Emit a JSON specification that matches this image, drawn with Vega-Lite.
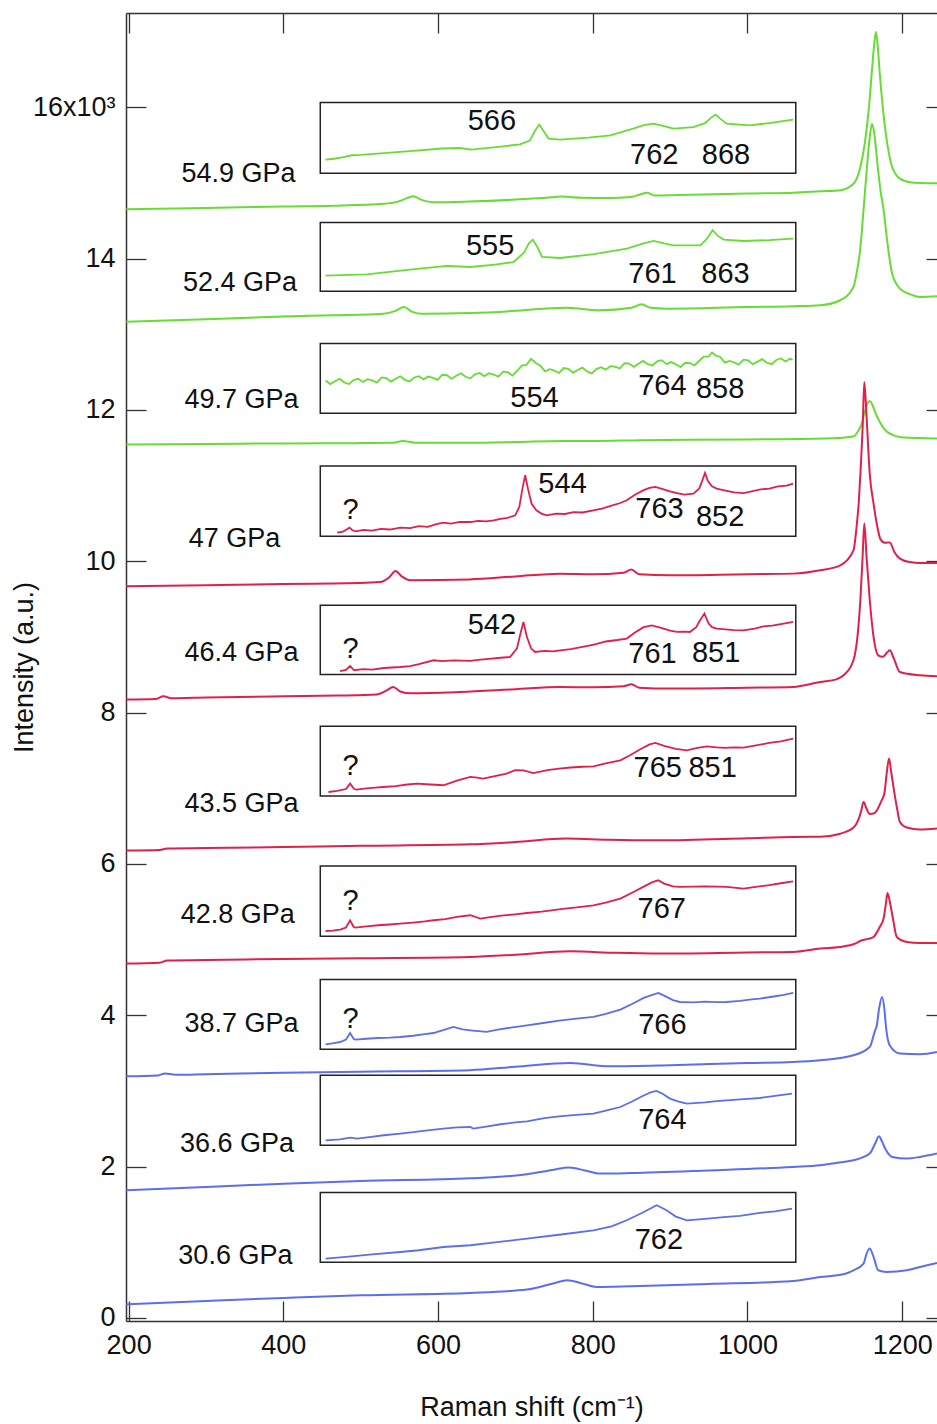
{
  "$schema": "https://vega.github.io/schema/vega-lite/v6.json",
  "width": 811,
  "height": 1308,
  "autosize": {"type": "none"},
  "padding": {"left": 126, "top": 13, "right": 0, "bottom": 103},
  "background": "white",
  "config": {
    "view": {"stroke": null},
    "font": "Liberation Sans",
    "axis": {"labelFont": "Liberation Sans", "titleFont": "Liberation Sans", "labelFontSize": 27, "titleFontSize": 27, "titleFontWeight": "normal", "labelColor": "#111", "titleColor": "#111", "tickColor": "#333", "domainColor": "#333", "tickWidth": 1.3, "domainWidth": 1.5, "grid": false, "labelFlush": false, "labelOverlap": false},
    "text": {"font": "Liberation Sans", "color": "#111"}
  },
  "datasets": {
    "main": [
      {"p":"54.9","x":197,"y":14652},{"p":"54.9","x":300,"y":14670},{"p":"54.9","x":400,"y":14690},{"p":"54.9","x":465,"y":14700},{"p":"54.9","x":530,"y":14725},{"p":"54.9","x":550,"y":14760},{"p":"54.9","x":560,"y":14800},{"p":"54.9","x":568,"y":14823},{"p":"54.9","x":578,"y":14780},{"p":"54.9","x":595,"y":14745},{"p":"54.9","x":640,"y":14755},{"p":"54.9","x":700,"y":14780},{"p":"54.9","x":740,"y":14805},{"p":"54.9","x":760,"y":14820},{"p":"54.9","x":785,"y":14805},{"p":"54.9","x":820,"y":14800},{"p":"54.9","x":850,"y":14815},{"p":"54.9","x":862,"y":14850},{"p":"54.9","x":870,"y":14870},{"p":"54.9","x":880,"y":14835},{"p":"54.9","x":910,"y":14840},{"p":"54.9","x":1000,"y":14860},{"p":"54.9","x":1059,"y":14870},{"p":"54.9","x":1094,"y":14890},{"p":"54.9","x":1120,"y":14905},{"p":"54.9","x":1137,"y":14990},{"p":"54.9","x":1146,"y":15211},{"p":"54.9","x":1152,"y":15550},{"p":"54.9","x":1157,"y":15993},{"p":"54.9","x":1161,"y":16500},{"p":"54.9","x":1164,"y":16850},{"p":"54.9","x":1166,"y":16995},{"p":"54.9","x":1168,"y":16850},{"p":"54.9","x":1171,"y":16450},{"p":"54.9","x":1175,"y":15993},{"p":"54.9","x":1181,"y":15500},{"p":"54.9","x":1187,"y":15211},{"p":"54.9","x":1197,"y":15057},{"p":"54.9","x":1210,"y":15010},{"p":"54.9","x":1223,"y":14999},{"p":"54.9","x":1245,"y":14995},
      {"p":"52.4","x":197,"y":13165},{"p":"52.4","x":300,"y":13200},{"p":"52.4","x":400,"y":13235},{"p":"52.4","x":465,"y":13251},{"p":"52.4","x":529,"y":13273},{"p":"52.4","x":545,"y":13310},{"p":"52.4","x":556,"y":13360},{"p":"52.4","x":566,"y":13300},{"p":"52.4","x":580,"y":13270},{"p":"52.4","x":641,"y":13280},{"p":"52.4","x":700,"y":13310},{"p":"52.4","x":740,"y":13340},{"p":"52.4","x":766,"y":13352},{"p":"52.4","x":790,"y":13330},{"p":"52.4","x":809,"y":13317},{"p":"52.4","x":850,"y":13350},{"p":"52.4","x":863,"y":13396},{"p":"52.4","x":875,"y":13350},{"p":"52.4","x":896,"y":13339},{"p":"52.4","x":1000,"y":13360},{"p":"52.4","x":1059,"y":13370},{"p":"52.4","x":1094,"y":13383},{"p":"52.4","x":1120,"y":13450},{"p":"52.4","x":1137,"y":13625},{"p":"52.4","x":1141,"y":13802},{"p":"52.4","x":1146,"y":14150},{"p":"52.4","x":1150,"y":14640},{"p":"52.4","x":1154,"y":15150},{"p":"52.4","x":1158,"y":15600},{"p":"52.4","x":1161,"y":15784},{"p":"52.4","x":1164,"y":15650},{"p":"52.4","x":1168,"y":15250},{"p":"52.4","x":1172,"y":14900},{"p":"52.4","x":1176,"y":14640},{"p":"52.4","x":1181,"y":14200},{"p":"52.4","x":1187,"y":13802},{"p":"52.4","x":1197,"y":13604},{"p":"52.4","x":1210,"y":13530},{"p":"52.4","x":1223,"y":13493},{"p":"52.4","x":1245,"y":13502},
      {"p":"49.7","x":197,"y":11542},{"p":"49.7","x":300,"y":11550},{"p":"49.7","x":400,"y":11558},{"p":"49.7","x":500,"y":11562},{"p":"49.7","x":540,"y":11565},{"p":"49.7","x":555,"y":11590},{"p":"49.7","x":570,"y":11568},{"p":"49.7","x":640,"y":11565},{"p":"49.7","x":700,"y":11575},{"p":"49.7","x":760,"y":11590},{"p":"49.7","x":800,"y":11590},{"p":"49.7","x":860,"y":11600},{"p":"49.7","x":1000,"y":11610},{"p":"49.7","x":1100,"y":11622},{"p":"49.7","x":1137,"y":11650},{"p":"49.7","x":1143,"y":11720},{"p":"49.7","x":1147,"y":11800},{"p":"49.7","x":1151,"y":11950},{"p":"49.7","x":1155,"y":12080},{"p":"49.7","x":1158,"y":12118},{"p":"49.7","x":1161,"y":12080},{"p":"49.7","x":1165,"y":11970},{"p":"49.7","x":1170,"y":11860},{"p":"49.7","x":1176,"y":11760},{"p":"49.7","x":1182,"y":11700},{"p":"49.7","x":1190,"y":11660},{"p":"49.7","x":1201,"y":11635},{"p":"49.7","x":1245,"y":11622},
      {"p":"47","x":197,"y":9670},{"p":"47","x":300,"y":9685},{"p":"47","x":400,"y":9700},{"p":"47","x":465,"y":9705},{"p":"47","x":525,"y":9726},{"p":"47","x":537,"y":9790},{"p":"47","x":545,"y":9872},{"p":"47","x":553,"y":9800},{"p":"47","x":564,"y":9749},{"p":"47","x":641,"y":9760},{"p":"47","x":700,"y":9800},{"p":"47","x":758,"y":9837},{"p":"47","x":800,"y":9830},{"p":"47","x":840,"y":9850},{"p":"47","x":850,"y":9890},{"p":"47","x":860,"y":9830},{"p":"47","x":900,"y":9815},{"p":"47","x":1000,"y":9830},{"p":"47","x":1059,"y":9837},{"p":"47","x":1094,"y":9881},{"p":"47","x":1120,"y":9947},{"p":"47","x":1137,"y":10145},{"p":"47","x":1141,"y":10453},{"p":"47","x":1144,"y":10800},{"p":"47","x":1146,"y":11163},{"p":"47","x":1149,"y":11800},{"p":"47","x":1151,"y":12369},{"p":"47","x":1154,"y":11900},{"p":"47","x":1158,"y":11163},{"p":"47","x":1163,"y":10761},{"p":"47","x":1168,"y":10450},{"p":"47","x":1172,"y":10290},{"p":"47","x":1178,"y":10245},{"p":"47","x":1184,"y":10250},{"p":"47","x":1190,"y":10120},{"p":"47","x":1197,"y":10036},{"p":"47","x":1210,"y":9990},{"p":"47","x":1223,"y":9977},{"p":"47","x":1245,"y":9977},
      {"p":"46.4","x":197,"y":8172},{"p":"46.4","x":235,"y":8180},{"p":"46.4","x":245,"y":8215},{"p":"46.4","x":255,"y":8190},{"p":"46.4","x":300,"y":8200},{"p":"46.4","x":400,"y":8215},{"p":"46.4","x":470,"y":8225},{"p":"46.4","x":521,"y":8240},{"p":"46.4","x":533,"y":8290},{"p":"46.4","x":542,"y":8339},{"p":"46.4","x":551,"y":8280},{"p":"46.4","x":565,"y":8255},{"p":"46.4","x":629,"y":8273},{"p":"46.4","x":700,"y":8310},{"p":"46.4","x":758,"y":8339},{"p":"46.4","x":800,"y":8335},{"p":"46.4","x":840,"y":8350},{"p":"46.4","x":850,"y":8374},{"p":"46.4","x":860,"y":8330},{"p":"46.4","x":900,"y":8318},{"p":"46.4","x":1000,"y":8330},{"p":"46.4","x":1059,"y":8339},{"p":"46.4","x":1094,"y":8405},{"p":"46.4","x":1115,"y":8440},{"p":"46.4","x":1125,"y":8500},{"p":"46.4","x":1137,"y":8692},{"p":"46.4","x":1143,"y":9088},{"p":"46.4","x":1146,"y":9498},{"p":"46.4","x":1149,"y":10100},{"p":"46.4","x":1151,"y":10498},{"p":"46.4","x":1154,"y":10050},{"p":"46.4","x":1158,"y":9498},{"p":"46.4","x":1163,"y":9000},{"p":"46.4","x":1169,"y":8758},{"p":"46.4","x":1175,"y":8740},{"p":"46.4","x":1181,"y":8800},{"p":"46.4","x":1184,"y":8824},{"p":"46.4","x":1189,"y":8720},{"p":"46.4","x":1197,"y":8537},{"p":"46.4","x":1223,"y":8493},{"p":"46.4","x":1245,"y":8480},
      {"p":"43.5","x":197,"y":6178},{"p":"43.5","x":240,"y":6185},{"p":"43.5","x":250,"y":6205},{"p":"43.5","x":300,"y":6210},{"p":"43.5","x":400,"y":6225},{"p":"43.5","x":500,"y":6240},{"p":"43.5","x":641,"y":6260},{"p":"43.5","x":700,"y":6290},{"p":"43.5","x":766,"y":6335},{"p":"43.5","x":820,"y":6320},{"p":"43.5","x":887,"y":6313},{"p":"43.5","x":1000,"y":6340},{"p":"43.5","x":1059,"y":6357},{"p":"43.5","x":1094,"y":6360},{"p":"43.5","x":1120,"y":6400},{"p":"43.5","x":1137,"y":6481},{"p":"43.5","x":1143,"y":6577},{"p":"43.5","x":1147,"y":6700},{"p":"43.5","x":1150,"y":6819},{"p":"43.5","x":1154,"y":6730},{"p":"43.5","x":1158,"y":6660},{"p":"43.5","x":1163,"y":6666},{"p":"43.5","x":1168,"y":6720},{"p":"43.5","x":1173,"y":6830},{"p":"43.5","x":1177,"y":6934},{"p":"43.5","x":1180,"y":7200},{"p":"43.5","x":1183,"y":7393},{"p":"43.5","x":1186,"y":7200},{"p":"43.5","x":1190,"y":6934},{"p":"43.5","x":1194,"y":6700},{"p":"43.5","x":1197,"y":6555},{"p":"43.5","x":1206,"y":6481},{"p":"43.5","x":1223,"y":6454},{"p":"43.5","x":1245,"y":6468},
      {"p":"42.8","x":197,"y":4684},{"p":"42.8","x":240,"y":4695},{"p":"42.8","x":250,"y":4725},{"p":"42.8","x":300,"y":4730},{"p":"42.8","x":400,"y":4745},{"p":"42.8","x":500,"y":4755},{"p":"42.8","x":641,"y":4771},{"p":"42.8","x":700,"y":4800},{"p":"42.8","x":771,"y":4846},{"p":"42.8","x":830,"y":4825},{"p":"42.8","x":887,"y":4816},{"p":"42.8","x":1000,"y":4830},{"p":"42.8","x":1059,"y":4837},{"p":"42.8","x":1094,"y":4882},{"p":"42.8","x":1124,"y":4910},{"p":"42.8","x":1137,"y":4939},{"p":"42.8","x":1148,"y":4991},{"p":"42.8","x":1156,"y":5010},{"p":"42.8","x":1163,"y":5035},{"p":"42.8","x":1171,"y":5167},{"p":"42.8","x":1176,"y":5282},{"p":"42.8","x":1179,"y":5480},{"p":"42.8","x":1181,"y":5617},{"p":"42.8","x":1184,"y":5500},{"p":"42.8","x":1188,"y":5282},{"p":"42.8","x":1193,"y":5035},{"p":"42.8","x":1206,"y":4969},{"p":"42.8","x":1223,"y":4956},{"p":"42.8","x":1245,"y":4956},
      {"p":"38.7","x":197,"y":3194},{"p":"38.7","x":238,"y":3205},{"p":"38.7","x":247,"y":3232},{"p":"38.7","x":260,"y":3215},{"p":"38.7","x":300,"y":3222},{"p":"38.7","x":400,"y":3240},{"p":"38.7","x":500,"y":3255},{"p":"38.7","x":641,"y":3275},{"p":"38.7","x":700,"y":3320},{"p":"38.7","x":771,"y":3370},{"p":"38.7","x":822,"y":3326},{"p":"38.7","x":900,"y":3340},{"p":"38.7","x":1000,"y":3370},{"p":"38.7","x":1059,"y":3383},{"p":"38.7","x":1094,"y":3406},{"p":"38.7","x":1137,"y":3472},{"p":"38.7","x":1158,"y":3581},{"p":"38.7","x":1165,"y":3802},{"p":"38.7","x":1167,"y":3855},{"p":"38.7","x":1170,"y":4080},{"p":"38.7","x":1174,"y":4242},{"p":"38.7","x":1177,"y":4080},{"p":"38.7","x":1179,"y":3855},{"p":"38.7","x":1184,"y":3600},{"p":"38.7","x":1197,"y":3494},{"p":"38.7","x":1223,"y":3485},{"p":"38.7","x":1245,"y":3515},
      {"p":"36.6","x":197,"y":1688},{"p":"36.6","x":300,"y":1730},{"p":"36.6","x":400,"y":1775},{"p":"36.6","x":500,"y":1810},{"p":"36.6","x":641,"y":1845},{"p":"36.6","x":715,"y":1899},{"p":"36.6","x":750,"y":1960},{"p":"36.6","x":769,"y":1988},{"p":"36.6","x":790,"y":1950},{"p":"36.6","x":809,"y":1908},{"p":"36.6","x":850,"y":1915},{"p":"36.6","x":950,"y":1950},{"p":"36.6","x":1059,"y":1996},{"p":"36.6","x":1094,"y":2018},{"p":"36.6","x":1124,"y":2062},{"p":"36.6","x":1137,"y":2084},{"p":"36.6","x":1158,"y":2173},{"p":"36.6","x":1165,"y":2305},{"p":"36.6","x":1170,"y":2401},{"p":"36.6","x":1174,"y":2330},{"p":"36.6","x":1178,"y":2239},{"p":"36.6","x":1187,"y":2128},{"p":"36.6","x":1206,"y":2107},{"p":"36.6","x":1223,"y":2128},{"p":"36.6","x":1245,"y":2173},
      {"p":"30.6","x":197,"y":181},{"p":"30.6","x":300,"y":225},{"p":"30.6","x":400,"y":265},{"p":"30.6","x":500,"y":300},{"p":"30.6","x":641,"y":330},{"p":"30.6","x":715,"y":375},{"p":"30.6","x":750,"y":460},{"p":"30.6","x":767,"y":498},{"p":"30.6","x":785,"y":460},{"p":"30.6","x":805,"y":410},{"p":"30.6","x":850,"y":420},{"p":"30.6","x":950,"y":450},{"p":"30.6","x":1059,"y":489},{"p":"30.6","x":1094,"y":542},{"p":"30.6","x":1124,"y":577},{"p":"30.6","x":1137,"y":630},{"p":"30.6","x":1150,"y":719},{"p":"30.6","x":1154,"y":851},{"p":"30.6","x":1158,"y":917},{"p":"30.6","x":1163,"y":806},{"p":"30.6","x":1169,"y":630},{"p":"30.6","x":1180,"y":608},{"p":"30.6","x":1206,"y":630},{"p":"30.6","x":1223,"y":674},{"p":"30.6","x":1245,"y":727}
    ],
    "inset": [
      {"p":"54.9","ix":200,"y":15308},{"p":"54.9","ix":215,"y":15320},{"p":"54.9","ix":230,"y":15340},{"p":"54.9","ix":245,"y":15366},{"p":"54.9","ix":260,"y":15370},{"p":"54.9","ix":300,"y":15395},{"p":"54.9","ix":350,"y":15425},{"p":"54.9","ix":400,"y":15455},{"p":"54.9","ix":430,"y":15462},{"p":"54.9","ix":450,"y":15440},{"p":"54.9","ix":500,"y":15480},{"p":"54.9","ix":533,"y":15510},{"p":"54.9","ix":550,"y":15560},{"p":"54.9","ix":558,"y":15680},{"p":"54.9","ix":566,"y":15771},{"p":"54.9","ix":574,"y":15680},{"p":"54.9","ix":582,"y":15586},{"p":"54.9","ix":602,"y":15573},{"p":"54.9","ix":650,"y":15600},{"p":"54.9","ix":688,"y":15630},{"p":"54.9","ix":727,"y":15718},{"p":"54.9","ix":745,"y":15765},{"p":"54.9","ix":762,"y":15784},{"p":"54.9","ix":780,"y":15750},{"p":"54.9","ix":796,"y":15718},{"p":"54.9","ix":830,"y":15739},{"p":"54.9","ix":850,"y":15790},{"p":"54.9","ix":860,"y":15860},{"p":"54.9","ix":868,"y":15903},{"p":"54.9","ix":876,"y":15850},{"p":"54.9","ix":887,"y":15784},{"p":"54.9","ix":927,"y":15762},{"p":"54.9","ix":960,"y":15790},{"p":"54.9","ix":1001,"y":15837},
      {"p":"52.4","ix":200,"y":13776},{"p":"52.4","ix":271,"y":13793},{"p":"52.4","ix":340,"y":13850},{"p":"52.4","ix":408,"y":13903},{"p":"52.4","ix":448,"y":13889},{"p":"52.4","ix":490,"y":13920},{"p":"52.4","ix":522,"y":13955},{"p":"52.4","ix":540,"y":14080},{"p":"52.4","ix":548,"y":14200},{"p":"52.4","ix":555,"y":14251},{"p":"52.4","ix":563,"y":14150},{"p":"52.4","ix":571,"y":14022},{"p":"52.4","ix":602,"y":14008},{"p":"52.4","ix":660,"y":14060},{"p":"52.4","ix":716,"y":14132},{"p":"52.4","ix":745,"y":14200},{"p":"52.4","ix":762,"y":14233},{"p":"52.4","ix":780,"y":14200},{"p":"52.4","ix":796,"y":14176},{"p":"52.4","ix":842,"y":14176},{"p":"52.4","ix":853,"y":14260},{"p":"52.4","ix":863,"y":14375},{"p":"52.4","ix":872,"y":14300},{"p":"52.4","ix":882,"y":14251},{"p":"52.4","ix":916,"y":14233},{"p":"52.4","ix":960,"y":14245},{"p":"52.4","ix":1001,"y":14264},
      {"p":"49.7","ix":200,"y":12389},{"p":"49.7","ix":208,"y":12342},{"p":"49.7","ix":216,"y":12380},{"p":"49.7","ix":224,"y":12412},{"p":"49.7","ix":232,"y":12365},{"p":"49.7","ix":240,"y":12342},{"p":"49.7","ix":248,"y":12394},{"p":"49.7","ix":256,"y":12412},{"p":"49.7","ix":264,"y":12370},{"p":"49.7","ix":272,"y":12407},{"p":"49.7","ix":280,"y":12390},{"p":"49.7","ix":288,"y":12362},{"p":"49.7","ix":296,"y":12430},{"p":"49.7","ix":304,"y":12422},{"p":"49.7","ix":312,"y":12375},{"p":"49.7","ix":320,"y":12413},{"p":"49.7","ix":328,"y":12445},{"p":"49.7","ix":336,"y":12398},{"p":"49.7","ix":344,"y":12376},{"p":"49.7","ix":352,"y":12429},{"p":"49.7","ix":360,"y":12446},{"p":"49.7","ix":368,"y":12404},{"p":"49.7","ix":376,"y":12441},{"p":"49.7","ix":384,"y":12423},{"p":"49.7","ix":392,"y":12397},{"p":"49.7","ix":400,"y":12465},{"p":"49.7","ix":408,"y":12459},{"p":"49.7","ix":416,"y":12413},{"p":"49.7","ix":424,"y":12452},{"p":"49.7","ix":432,"y":12485},{"p":"49.7","ix":440,"y":12439},{"p":"49.7","ix":448,"y":12418},{"p":"49.7","ix":456,"y":12471},{"p":"49.7","ix":464,"y":12489},{"p":"49.7","ix":472,"y":12447},{"p":"49.7","ix":480,"y":12485},{"p":"49.7","ix":488,"y":12468},{"p":"49.7","ix":496,"y":12440},{"p":"49.7","ix":504,"y":12507},{"p":"49.7","ix":512,"y":12499},{"p":"49.7","ix":520,"y":12455},{"p":"49.7","ix":528,"y":12515},{"p":"49.7","ix":536,"y":12585},{"p":"49.7","ix":544,"y":12595},{"p":"49.7","ix":552,"y":12675},{"p":"49.7","ix":560,"y":12620},{"p":"49.7","ix":568,"y":12585},{"p":"49.7","ix":576,"y":12510},{"p":"49.7","ix":584,"y":12539},{"p":"49.7","ix":592,"y":12519},{"p":"49.7","ix":600,"y":12489},{"p":"49.7","ix":608,"y":12554},{"p":"49.7","ix":616,"y":12544},{"p":"49.7","ix":624,"y":12494},{"p":"49.7","ix":632,"y":12529},{"p":"49.7","ix":640,"y":12559},{"p":"49.7","ix":648,"y":12509},{"p":"49.7","ix":656,"y":12484},{"p":"49.7","ix":664,"y":12540},{"p":"49.7","ix":672,"y":12566},{"p":"49.7","ix":680,"y":12533},{"p":"49.7","ix":688,"y":12579},{"p":"49.7","ix":696,"y":12571},{"p":"49.7","ix":704,"y":12548},{"p":"49.7","ix":712,"y":12617},{"p":"49.7","ix":720,"y":12613},{"p":"49.7","ix":728,"y":12570},{"p":"49.7","ix":736,"y":12612},{"p":"49.7","ix":744,"y":12648},{"p":"49.7","ix":752,"y":12605},{"p":"49.7","ix":760,"y":12587},{"p":"49.7","ix":768,"y":12642},{"p":"49.7","ix":776,"y":12658},{"p":"49.7","ix":784,"y":12606},{"p":"49.7","ix":792,"y":12633},{"p":"49.7","ix":800,"y":12605},{"p":"49.7","ix":808,"y":12566},{"p":"49.7","ix":816,"y":12624},{"p":"49.7","ix":824,"y":12620},{"p":"49.7","ix":832,"y":12590},{"p":"49.7","ix":840,"y":12650},{"p":"49.7","ix":848,"y":12705},{"p":"49.7","ix":856,"y":12705},{"p":"49.7","ix":862,"y":12760},{"p":"49.7","ix":868,"y":12720},{"p":"49.7","ix":876,"y":12700},{"p":"49.7","ix":884,"y":12625},{"p":"49.7","ix":892,"y":12649},{"p":"49.7","ix":900,"y":12629},{"p":"49.7","ix":908,"y":12599},{"p":"49.7","ix":916,"y":12664},{"p":"49.7","ix":924,"y":12654},{"p":"49.7","ix":932,"y":12604},{"p":"49.7","ix":940,"y":12639},{"p":"49.7","ix":948,"y":12671},{"p":"49.7","ix":956,"y":12625},{"p":"49.7","ix":964,"y":12605},{"p":"49.7","ix":972,"y":12660},{"p":"49.7","ix":980,"y":12680},{"p":"49.7","ix":988,"y":12640},{"p":"49.7","ix":996,"y":12680},{"p":"49.7","ix":1000,"y":12661},
      {"p":"47","ix":220,"y":10379},{"p":"47","ix":230,"y":10392},{"p":"47","ix":236,"y":10420},{"p":"47","ix":241,"y":10445},{"p":"47","ix":246,"y":10410},{"p":"47","ix":252,"y":10396},{"p":"47","ix":265,"y":10415},{"p":"47","ix":280,"y":10405},{"p":"47","ix":295,"y":10428},{"p":"47","ix":310,"y":10420},{"p":"47","ix":328,"y":10445},{"p":"47","ix":345,"y":10438},{"p":"47","ix":360,"y":10465},{"p":"47","ix":375,"y":10455},{"p":"47","ix":390,"y":10490},{"p":"47","ix":402,"y":10512},{"p":"47","ix":415,"y":10498},{"p":"47","ix":430,"y":10522},{"p":"47","ix":448,"y":10519},{"p":"47","ix":462,"y":10535},{"p":"47","ix":475,"y":10528},{"p":"47","ix":488,"y":10542},{"p":"47","ix":500,"y":10560},{"p":"47","ix":512,"y":10575},{"p":"47","ix":525,"y":10608},{"p":"47","ix":532,"y":10720},{"p":"47","ix":537,"y":10950},{"p":"47","ix":542,"y":11137},{"p":"47","ix":547,"y":10950},{"p":"47","ix":553,"y":10760},{"p":"47","ix":561,"y":10674},{"p":"47","ix":570,"y":10630},{"p":"47","ix":579,"y":10608},{"p":"47","ix":595,"y":10630},{"p":"47","ix":610,"y":10625},{"p":"47","ix":625,"y":10650},{"p":"47","ix":640,"y":10645},{"p":"47","ix":659,"y":10674},{"p":"47","ix":675,"y":10700},{"p":"47","ix":690,"y":10735},{"p":"47","ix":705,"y":10770},{"p":"47","ix":716,"y":10806},{"p":"47","ix":730,"y":10880},{"p":"47","ix":745,"y":10940},{"p":"47","ix":755,"y":10970},{"p":"47","ix":765,"y":10982},{"p":"47","ix":775,"y":10960},{"p":"47","ix":790,"y":10925},{"p":"47","ix":802,"y":10902},{"p":"47","ix":815,"y":10880},{"p":"47","ix":830,"y":10894},{"p":"47","ix":840,"y":10960},{"p":"47","ix":845,"y":11060},{"p":"47","ix":850,"y":11167},{"p":"47","ix":855,"y":11060},{"p":"47","ix":862,"y":10990},{"p":"47","ix":870,"y":10961},{"p":"47","ix":885,"y":10935},{"p":"47","ix":900,"y":10910},{"p":"47","ix":916,"y":10902},{"p":"47","ix":930,"y":10925},{"p":"47","ix":945,"y":10950},{"p":"47","ix":960,"y":10960},{"p":"47","ix":975,"y":10990},{"p":"47","ix":990,"y":11000},{"p":"47","ix":1001,"y":11027},
      {"p":"46.4","ix":225,"y":8550},{"p":"46.4","ix":235,"y":8565},{"p":"46.4","ix":242,"y":8616},{"p":"46.4","ix":249,"y":8560},{"p":"46.4","ix":265,"y":8575},{"p":"46.4","ix":280,"y":8568},{"p":"46.4","ix":300,"y":8590},{"p":"46.4","ix":328,"y":8603},{"p":"46.4","ix":345,"y":8615},{"p":"46.4","ix":360,"y":8640},{"p":"46.4","ix":385,"y":8692},{"p":"46.4","ix":400,"y":8680},{"p":"46.4","ix":420,"y":8690},{"p":"46.4","ix":448,"y":8683},{"p":"46.4","ix":465,"y":8700},{"p":"46.4","ix":480,"y":8710},{"p":"46.4","ix":500,"y":8725},{"p":"46.4","ix":516,"y":8735},{"p":"46.4","ix":528,"y":8850},{"p":"46.4","ix":534,"y":9050},{"p":"46.4","ix":539,"y":9198},{"p":"46.4","ix":545,"y":9000},{"p":"46.4","ix":552,"y":8850},{"p":"46.4","ix":559,"y":8802},{"p":"46.4","ix":575,"y":8815},{"p":"46.4","ix":590,"y":8810},{"p":"46.4","ix":602,"y":8824},{"p":"46.4","ix":620,"y":8840},{"p":"46.4","ix":640,"y":8870},{"p":"46.4","ix":660,"y":8900},{"p":"46.4","ix":680,"y":8940},{"p":"46.4","ix":700,"y":8960},{"p":"46.4","ix":716,"y":8979},{"p":"46.4","ix":730,"y":9060},{"p":"46.4","ix":745,"y":9130},{"p":"46.4","ix":759,"y":9154},{"p":"46.4","ix":775,"y":9120},{"p":"46.4","ix":790,"y":9085},{"p":"46.4","ix":802,"y":9066},{"p":"46.4","ix":815,"y":9070},{"p":"46.4","ix":824,"y":9066},{"p":"46.4","ix":835,"y":9130},{"p":"46.4","ix":840,"y":9200},{"p":"46.4","ix":849,"y":9309},{"p":"46.4","ix":856,"y":9180},{"p":"46.4","ix":862,"y":9130},{"p":"46.4","ix":870,"y":9111},{"p":"46.4","ix":885,"y":9100},{"p":"46.4","ix":900,"y":9090},{"p":"46.4","ix":916,"y":9088},{"p":"46.4","ix":935,"y":9110},{"p":"46.4","ix":950,"y":9140},{"p":"46.4","ix":965,"y":9150},{"p":"46.4","ix":980,"y":9170},{"p":"46.4","ix":1001,"y":9198},
      {"p":"43.5","ix":205,"y":6951},{"p":"43.5","ix":220,"y":6965},{"p":"43.5","ix":235,"y":6990},{"p":"43.5","ix":242,"y":7062},{"p":"43.5","ix":249,"y":6990},{"p":"43.5","ix":253,"y":6983},{"p":"43.5","ix":270,"y":7000},{"p":"43.5","ix":285,"y":7010},{"p":"43.5","ix":299,"y":7017},{"p":"43.5","ix":320,"y":7030},{"p":"43.5","ix":340,"y":7050},{"p":"43.5","ix":357,"y":7062},{"p":"43.5","ix":380,"y":7050},{"p":"43.5","ix":402,"y":7040},{"p":"43.5","ix":425,"y":7100},{"p":"43.5","ix":448,"y":7150},{"p":"43.5","ix":460,"y":7140},{"p":"43.5","ix":470,"y":7128},{"p":"43.5","ix":490,"y":7160},{"p":"43.5","ix":510,"y":7195},{"p":"43.5","ix":525,"y":7240},{"p":"43.5","ix":539,"y":7238},{"p":"43.5","ix":556,"y":7202},{"p":"43.5","ix":580,"y":7240},{"p":"43.5","ix":600,"y":7260},{"p":"43.5","ix":620,"y":7275},{"p":"43.5","ix":640,"y":7285},{"p":"43.5","ix":659,"y":7291},{"p":"43.5","ix":680,"y":7330},{"p":"43.5","ix":705,"y":7370},{"p":"43.5","ix":720,"y":7430},{"p":"43.5","ix":740,"y":7520},{"p":"43.5","ix":755,"y":7580},{"p":"43.5","ix":765,"y":7599},{"p":"43.5","ix":780,"y":7560},{"p":"43.5","ix":800,"y":7520},{"p":"43.5","ix":819,"y":7502},{"p":"43.5","ix":835,"y":7530},{"p":"43.5","ix":853,"y":7555},{"p":"43.5","ix":870,"y":7540},{"p":"43.5","ix":885,"y":7535},{"p":"43.5","ix":900,"y":7540},{"p":"43.5","ix":916,"y":7538},{"p":"43.5","ix":940,"y":7570},{"p":"43.5","ix":960,"y":7600},{"p":"43.5","ix":980,"y":7620},{"p":"43.5","ix":1001,"y":7657},
      {"p":"42.8","ix":200,"y":5114},{"p":"42.8","ix":212,"y":5120},{"p":"42.8","ix":225,"y":5133},{"p":"42.8","ix":235,"y":5160},{"p":"42.8","ix":242,"y":5256},{"p":"42.8","ix":248,"y":5170},{"p":"42.8","ix":251,"y":5159},{"p":"42.8","ix":270,"y":5175},{"p":"42.8","ix":290,"y":5190},{"p":"42.8","ix":310,"y":5200},{"p":"42.8","ix":328,"y":5212},{"p":"42.8","ix":350,"y":5225},{"p":"42.8","ix":370,"y":5240},{"p":"42.8","ix":385,"y":5256},{"p":"42.8","ix":405,"y":5270},{"p":"42.8","ix":425,"y":5300},{"p":"42.8","ix":448,"y":5322},{"p":"42.8","ix":465,"y":5278},{"p":"42.8","ix":485,"y":5300},{"p":"42.8","ix":505,"y":5320},{"p":"42.8","ix":525,"y":5335},{"p":"42.8","ix":545,"y":5352},{"p":"42.8","ix":570,"y":5370},{"p":"42.8","ix":590,"y":5390},{"p":"42.8","ix":610,"y":5410},{"p":"42.8","ix":630,"y":5425},{"p":"42.8","ix":659,"y":5454},{"p":"42.8","ix":680,"y":5490},{"p":"42.8","ix":705,"y":5543},{"p":"42.8","ix":725,"y":5620},{"p":"42.8","ix":745,"y":5700},{"p":"42.8","ix":760,"y":5760},{"p":"42.8","ix":770,"y":5784},{"p":"42.8","ix":780,"y":5740},{"p":"42.8","ix":795,"y":5705},{"p":"42.8","ix":807,"y":5696},{"p":"42.8","ix":830,"y":5700},{"p":"42.8","ix":850,"y":5705},{"p":"42.8","ix":870,"y":5700},{"p":"42.8","ix":887,"y":5696},{"p":"42.8","ix":916,"y":5675},{"p":"42.8","ix":940,"y":5700},{"p":"42.8","ix":960,"y":5720},{"p":"42.8","ix":980,"y":5745},{"p":"42.8","ix":1001,"y":5771},
      {"p":"38.7","ix":200,"y":3616},{"p":"38.7","ix":212,"y":3630},{"p":"38.7","ix":225,"y":3647},{"p":"38.7","ix":235,"y":3680},{"p":"38.7","ix":242,"y":3766},{"p":"38.7","ix":248,"y":3690},{"p":"38.7","ix":251,"y":3679},{"p":"38.7","ix":270,"y":3690},{"p":"38.7","ix":290,"y":3700},{"p":"38.7","ix":310,"y":3705},{"p":"38.7","ix":328,"y":3713},{"p":"38.7","ix":350,"y":3730},{"p":"38.7","ix":370,"y":3750},{"p":"38.7","ix":385,"y":3766},{"p":"38.7","ix":400,"y":3800},{"p":"38.7","ix":419,"y":3846},{"p":"38.7","ix":435,"y":3815},{"p":"38.7","ix":448,"y":3802},{"p":"38.7","ix":462,"y":3790},{"p":"38.7","ix":476,"y":3780},{"p":"38.7","ix":495,"y":3810},{"p":"38.7","ix":520,"y":3840},{"p":"38.7","ix":545,"y":3868},{"p":"38.7","ix":570,"y":3895},{"p":"38.7","ix":600,"y":3930},{"p":"38.7","ix":630,"y":3955},{"p":"38.7","ix":659,"y":3978},{"p":"38.7","ix":680,"y":4020},{"p":"38.7","ix":705,"y":4076},{"p":"38.7","ix":725,"y":4150},{"p":"38.7","ix":745,"y":4230},{"p":"38.7","ix":760,"y":4270},{"p":"38.7","ix":770,"y":4295},{"p":"38.7","ix":780,"y":4260},{"p":"38.7","ix":795,"y":4200},{"p":"38.7","ix":807,"y":4176},{"p":"38.7","ix":830,"y":4170},{"p":"38.7","ix":850,"y":4180},{"p":"38.7","ix":870,"y":4175},{"p":"38.7","ix":887,"y":4176},{"p":"38.7","ix":910,"y":4190},{"p":"38.7","ix":930,"y":4210},{"p":"38.7","ix":944,"y":4221},{"p":"38.7","ix":965,"y":4245},{"p":"38.7","ix":985,"y":4270},{"p":"38.7","ix":1001,"y":4295},
      {"p":"36.6","ix":200,"y":2348},{"p":"36.6","ix":225,"y":2360},{"p":"36.6","ix":242,"y":2384},{"p":"36.6","ix":254,"y":2371},{"p":"36.6","ix":275,"y":2390},{"p":"36.6","ix":300,"y":2415},{"p":"36.6","ix":328,"y":2437},{"p":"36.6","ix":350,"y":2455},{"p":"36.6","ix":375,"y":2480},{"p":"36.6","ix":402,"y":2503},{"p":"36.6","ix":425,"y":2520},{"p":"36.6","ix":448,"y":2524},{"p":"36.6","ix":453,"y":2503},{"p":"36.6","ix":475,"y":2530},{"p":"36.6","ix":500,"y":2560},{"p":"36.6","ix":525,"y":2585},{"p":"36.6","ix":545,"y":2599},{"p":"36.6","ix":575,"y":2640},{"p":"36.6","ix":600,"y":2665},{"p":"36.6","ix":630,"y":2685},{"p":"36.6","ix":659,"y":2701},{"p":"36.6","ix":680,"y":2740},{"p":"36.6","ix":705,"y":2788},{"p":"36.6","ix":725,"y":2860},{"p":"36.6","ix":745,"y":2940},{"p":"36.6","ix":758,"y":2985},{"p":"36.6","ix":767,"y":3000},{"p":"36.6","ix":778,"y":2960},{"p":"36.6","ix":790,"y":2899},{"p":"36.6","ix":805,"y":2860},{"p":"36.6","ix":819,"y":2833},{"p":"36.6","ix":850,"y":2850},{"p":"36.6","ix":870,"y":2865},{"p":"36.6","ix":887,"y":2877},{"p":"36.6","ix":910,"y":2890},{"p":"36.6","ix":930,"y":2900},{"p":"36.6","ix":944,"y":2907},{"p":"36.6","ix":970,"y":2935},{"p":"36.6","ix":999,"y":2966},
      {"p":"30.6","ix":200,"y":785},{"p":"30.6","ix":240,"y":810},{"p":"30.6","ix":280,"y":840},{"p":"30.6","ix":328,"y":872},{"p":"30.6","ix":360,"y":895},{"p":"30.6","ix":402,"y":938},{"p":"30.6","ix":448,"y":961},{"p":"30.6","ix":490,"y":1000},{"p":"30.6","ix":545,"y":1049},{"p":"30.6","ix":600,"y":1100},{"p":"30.6","ix":659,"y":1159},{"p":"30.6","ix":690,"y":1210},{"p":"30.6","ix":716,"y":1291},{"p":"30.6","ix":740,"y":1380},{"p":"30.6","ix":755,"y":1440},{"p":"30.6","ix":767,"y":1489},{"p":"30.6","ix":775,"y":1460},{"p":"30.6","ix":784,"y":1423},{"p":"30.6","ix":800,"y":1340},{"p":"30.6","ix":819,"y":1291},{"p":"30.6","ix":850,"y":1310},{"p":"30.6","ix":887,"y":1335},{"p":"30.6","ix":910,"y":1350},{"p":"30.6","ix":944,"y":1388},{"p":"30.6","ix":970,"y":1410},{"p":"30.6","ix":999,"y":1446}
    ],
    "boxes": [
      {"p":"54.9","lo":15127,"hi":16062},{"p":"52.4","lo":13568,"hi":14476},{"p":"49.7","lo":11956,"hi":12877},{"p":"47","lo":10330,"hi":11259},{"p":"46.4","lo":8503,"hi":9419},{"p":"43.5","lo":6898,"hi":7820},{"p":"42.8","lo":5044,"hi":5973},{"p":"38.7","lo":3551,"hi":4472},{"p":"36.6","lo":2282,"hi":3207},{"p":"30.6","lo":736,"hi":1657}
    ],
    "plabels": [
      {"t":"54.9 GPa","x":342,"y":15118},{"t":"52.4 GPa","x":344,"y":13678},{"t":"49.7 GPa","x":346,"y":12128},{"t":"47 GPa","x":337,"y":10300},{"t":"46.4 GPa","x":346,"y":8793},{"t":"43.5 GPa","x":346,"y":6798},{"t":"42.8 GPa","x":341,"y":5322},{"t":"38.7 GPa","x":346,"y":3891},{"t":"36.6 GPa","x":340,"y":2305},{"t":"30.6 GPa","x":338,"y":815}
    ],
    "peaks": [
      {"t":"566","ix":485,"y":15818},{"t":"762","ix":763,"y":15365},{"t":"868","ix":886,"y":15365},
      {"t":"555","ix":482,"y":14173},{"t":"761","ix":760,"y":13793},{"t":"863","ix":885,"y":13793},
      {"t":"554","ix":558,"y":12158},{"t":"764","ix":777,"y":12313},{"t":"858","ix":876,"y":12282},
      {"t":"?","ix":243,"y":10683},{"t":"544","ix":606,"y":11018},{"t":"763","ix":772,"y":10696},{"t":"852","ix":876,"y":10585},
      {"t":"?","ix":243,"y":8846},{"t":"542","ix":485,"y":9154},{"t":"761","ix":760,"y":8780},{"t":"851","ix":869,"y":8788},
      {"t":"?","ix":243,"y":7291},{"t":"765","ix":769,"y":7263},{"t":"851","ix":863,"y":7274},
      {"t":"?","ix":243,"y":5511},{"t":"767","ix":776,"y":5410},
      {"t":"?","ix":243,"y":3957},{"t":"766","ix":777,"y":3868},
      {"t":"764","ix":777,"y":2613},
      {"t":"762","ix":771,"y":1036}
    ]
  },
  "layer": [
    {
      "layer": [
        {
          "data": {"name": "main"},
          "mark": {"type": "line", "strokeWidth": 2, "interpolate": "monotone"},
          "encoding": {
            "x": {"field": "x", "type": "quantitative", "scale": {"domain": [196.6, 1245], "nice": false, "zero": false},
                  "axis": {"orient": "bottom", "values": [200, 400, 600, 800, 1000, 1200], "format": "d", "tickSize": -20, "labelPadding": 31, "title": "Raman shift (cm⁻¹)", "titlePadding": 36}},
            "y": {"field": "y", "type": "quantitative", "scale": {"domain": [-40, 17246], "nice": false, "zero": false},
                  "axis": {"orient": "left", "values": [0, 2000, 4000, 6000, 8000, 10000, 12000, 14000, 16000], "tickSize": -20, "labelPadding": 31, "labelExpr": "datum.value == 16000 ? '16x10³' : format(datum.value / 1000, 'd')", "title": "Intensity (a.u.)", "titlePadding": -6}},
            "color": {"field": "p", "type": "nominal", "legend": null,
                      "scale": {"domain": ["54.9", "52.4", "49.7", "47", "46.4", "43.5", "42.8", "38.7", "36.6", "30.6"],
                                "range": ["#66dd33", "#66dd33", "#66dd33", "#e41e4a", "#e41e4a", "#e41e4a", "#e41e4a", "#5b6ef0", "#5b6ef0", "#5b6ef0"]}}
          }
        },
        {
          "data": {"name": "plabels"},
          "mark": {"type": "text", "fontSize": 27, "align": "center", "baseline": "middle"},
          "encoding": {
            "x": {"field": "x", "type": "quantitative", "scale": {"domain": [196.6, 1245], "nice": false, "zero": false},
                  "axis": {"orient": "top", "values": [200, 400, 600, 800, 1000, 1200], "tickSize": -20, "labels": false, "title": null, "domain": true}},
            "y": {"field": "y", "type": "quantitative", "scale": {"domain": [-40, 17246], "nice": false, "zero": false},
                  "axis": {"orient": "right", "values": [0, 2000, 4000, 6000, 8000, 10000, 12000, 14000, 16000], "tickSize": -11, "labels": false, "title": null, "domain": false}},
            "text": {"field": "t"}
          }
        }
      ],
      "resolve": {"axis": {"x": "independent", "y": "independent"}}
    },
    {
      "layer": [
        {
          "data": {"name": "boxes"},
          "mark": {"type": "rect", "filled": false, "stroke": "#222", "strokeWidth": 1.5},
          "encoding": {
            "x": {"datum": 191, "type": "quantitative", "scale": {"domain": [-141.8, 1247.4], "nice": false, "zero": false}, "axis": null},
            "x2": {"datum": 1005.5},
            "y": {"field": "lo", "type": "quantitative", "scale": {"domain": [-40, 17246], "nice": false, "zero": false}, "axis": null},
            "y2": {"field": "hi"}
          }
        },
        {
          "data": {"name": "inset"},
          "mark": {"type": "line", "strokeWidth": 1.8},
          "encoding": {
            "x": {"field": "ix", "type": "quantitative", "scale": {"domain": [-141.8, 1247.4], "nice": false, "zero": false}, "axis": null},
            "y": {"field": "y", "type": "quantitative", "scale": {"domain": [-40, 17246], "nice": false, "zero": false}, "axis": null},
            "color": {"field": "p", "type": "nominal", "legend": null,
                      "scale": {"domain": ["54.9", "52.4", "49.7", "47", "46.4", "43.5", "42.8", "38.7", "36.6", "30.6"],
                                "range": ["#66dd33", "#66dd33", "#66dd33", "#e41e4a", "#e41e4a", "#e41e4a", "#e41e4a", "#5b6ef0", "#5b6ef0", "#5b6ef0"]}}
          }
        },
        {
          "data": {"name": "peaks"},
          "mark": {"type": "text", "fontSize": 29, "align": "center", "baseline": "middle"},
          "encoding": {
            "x": {"field": "ix", "type": "quantitative", "scale": {"domain": [-141.8, 1247.4], "nice": false, "zero": false}, "axis": null},
            "y": {"field": "y", "type": "quantitative", "scale": {"domain": [-40, 17246], "nice": false, "zero": false}, "axis": null},
            "text": {"field": "t"}
          }
        }
      ]
    }
  ],
  "resolve": {"scale": {"x": "independent", "y": "independent"}, "axis": {"x": "independent", "y": "independent"}}
}
